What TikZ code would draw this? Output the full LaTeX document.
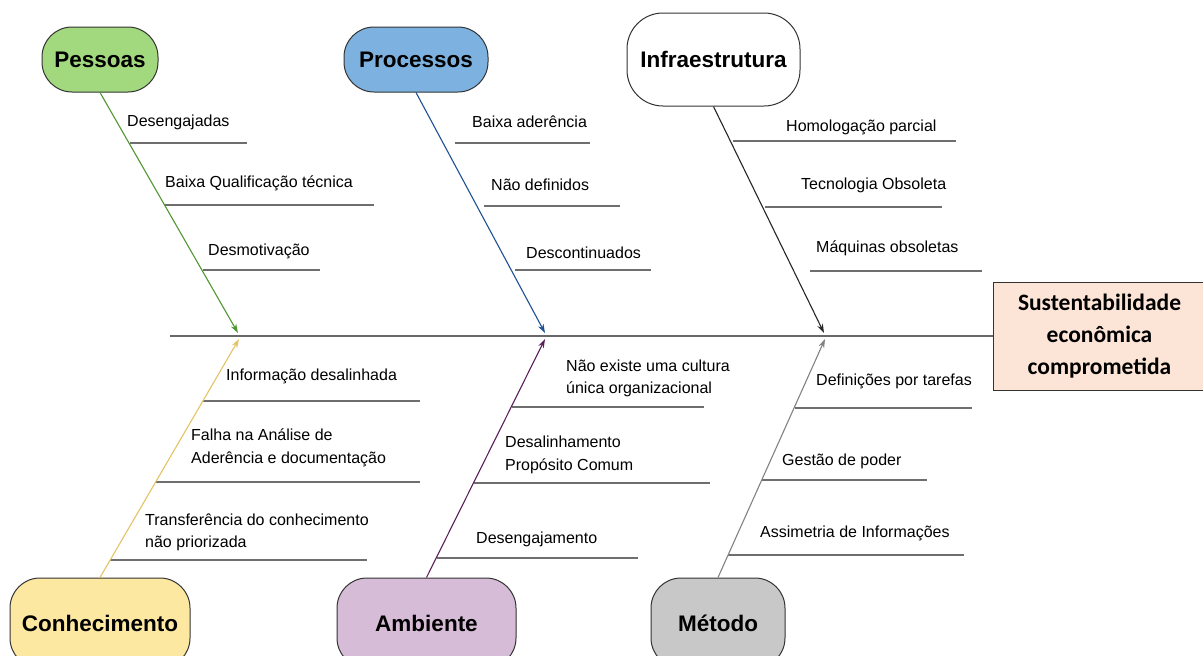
\documentclass[tikz,border=0pt]{standalone}
\usepackage{fontspec}
\setmainfont{Liberation Sans}
\newfontfamily\calib{Carlito}
\usetikzlibrary{arrows.meta}
\definecolor{gfill}{RGB}{163,217,126}
\definecolor{gline}{RGB}{80,150,50}
\definecolor{bfill}{RGB}{125,178,224}
\definecolor{bline}{RGB}{30,80,150}
\definecolor{yfill}{RGB}{252,232,160}
\definecolor{yline}{RGB}{228,195,100}
\definecolor{pfill}{RGB}{214,188,214}
\definecolor{pline}{RGB}{90,30,90}
\definecolor{grfill}{RGB}{200,200,200}
\definecolor{grline}{RGB}{130,130,130}
\definecolor{efill}{RGB}{252,228,214}
\definecolor{sline}{RGB}{110,110,110}
\tikzset{
  cat/.style={draw=black!80, line width=1pt, rounded corners=30pt, inner sep=0pt,
    font=\fontsize{22.5}{26}\selectfont\bfseries},
  bone/.style={line width=1.1pt, -{Stealth[length=9pt,width=6pt]}},
  sub/.style={draw=sline, line width=1.4pt},
  lab/.style={anchor=west, inner sep=0pt, font=\fontsize{16}{22.5}\selectfont, align=left},
}
\begin{document}
\begin{tikzpicture}[x=1pt,y=-1pt]
\useasboundingbox (0,0) rectangle (1203,656);
% effect box
\node[draw=black!80, line width=1pt, fill=efill, minimum width=212pt, minimum height=108pt,
  anchor=north west, inner sep=0pt, align=center,
  font=\calib\fontsize{23.5}{32}\selectfont\bfseries] (eff) at (993,282)
  {Sustentabilidade\\econômica\\comprometida};
% spine
\coordinate (sp) at (170,336);
\draw[draw=grline!80!black, line width=1.3pt] (sp) -- (eff.west |- sp);
% categories
\node[cat, fill=gfill, minimum width=116pt, minimum height=65pt] (pes) at (100,59.5) {Pessoas};
\node[cat, fill=bfill, minimum width=144pt, minimum height=65pt] (pro) at (416,59.5) {Processos};
\node[cat, fill=white, minimum width=173pt, minimum height=93pt, rounded corners=36pt] (inf) at (713.5,59.5) {Infraestrutura};
\node[cat, fill=yfill, minimum width=180pt, minimum height=90pt] (con) at (100,623) {Conhecimento};
\node[cat, fill=pfill, minimum width=179pt, minimum height=90pt] (amb) at (426.5,623) {Ambiente};
\node[cat, fill=grfill, minimum width=134pt, minimum height=90pt] (met) at (718,623) {Método};
% bone ends
\coordinate (epes) at (238,333);
\coordinate (epro) at (545,333);
\coordinate (einf) at (824,333);
\coordinate (econ) at (239,339);
\coordinate (eamb) at (545,339);
\coordinate (emet) at (825,339);
% sub-bones (drawn first, under bones)
\draw[sub] (130,143) -- (247,143);
\draw[sub] (165,205) -- (374,205);
\draw[sub] (203,270) -- (320,270);
\draw[sub] (455,143) -- (590,143);
\draw[sub] (484,206) -- (620,206);
\draw[sub] (515,270) -- (651,270);
\draw[sub] (733,141) -- (956,141);
\draw[sub] (765,207) -- (942,207);
\draw[sub] (810,271) -- (982,271);
\draw[sub] (203,401) -- (420,401);
\draw[sub] (156,482) -- (420,482);
\draw[sub] (110,560) -- (367,560);
\draw[sub] (512,407) -- (704,407);
\draw[sub] (474,483) -- (710,483);
\draw[sub] (437,558) -- (638,558);
\draw[sub] (795,408) -- (972,408);
\draw[sub] (762,480) -- (927,480);
\draw[sub] (728,555) -- (964,555);
% bones
\draw[bone, gline] (pes.south) -- (epes);
\draw[bone, bline] (pro.south) -- (epro);
\draw[bone, black!85] (inf.south) -- (einf);
\draw[bone, yline] (con.north) -- (econ);
\draw[bone, pline] (amb.north) -- (eamb);
\draw[bone, grline] (met.north) -- (emet);
% labels
\node[lab] (l1) at (127,122) {Desengajadas};
\node[lab] (l2) at (165,183) {Baixa Qualificação técnica};
\node[lab] (l3) at (208,251) {Desmotivação};
\node[lab] (l4) at (472,122) {Baixa aderência};
\node[lab] (l5) at (491,185) {Não definidos};
\node[lab] (l6) at (526,253) {Descontinuados};
\node[lab] (l7) at (786,127) {Homologação parcial};
\node[lab] (l8) at (801,185) {Tecnologia Obsoleta};
\node[lab] (l9) at (816,248) {Máquinas obsoletas};
\node[lab] (l10) at (226,376) {Informação desalinhada};
\node[lab] (l11) at (191,448) {Falha na Análise de\\Aderência e documentação};
\node[lab] (l12) at (145,532.5) {Transferência do conhecimento\\não priorizada};
\node[lab] (l13) at (566,378.5) {Não existe uma cultura\\única organizacional};
\node[lab] (l14) at (505,455) {Desalinhamento\\Propósito Comum};
\node[lab] (l15) at (476,539) {Desengajamento};
\node[lab] (l16) at (816,381) {Definições por tarefas};
\node[lab] (l17) at (782,461) {Gestão de poder};
\node[lab] (l18) at (760,533) {Assimetria de Informações};
\end{tikzpicture}
\end{document}
